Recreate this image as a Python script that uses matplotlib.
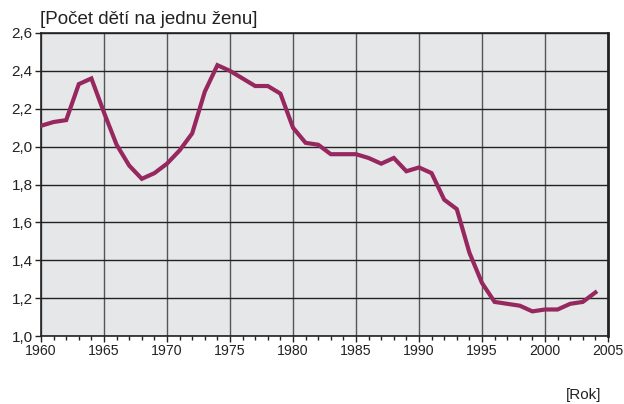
import matplotlib
matplotlib.use("Agg")
import matplotlib.pyplot as plt
from matplotlib.ticker import MultipleLocator, FuncFormatter

years = list(range(1960, 2005))
tfr = [2.11, 2.13, 2.14, 2.33, 2.36, 2.18, 2.01, 1.90, 1.83, 1.86,
       1.91, 1.98, 2.07, 2.29, 2.43, 2.40, 2.36, 2.32, 2.32, 2.28,
       2.10, 2.02, 2.01, 1.96, 1.96, 1.96, 1.94, 1.91, 1.94, 1.87,
       1.89, 1.86, 1.72, 1.67, 1.44, 1.28, 1.18, 1.17, 1.16, 1.13,
       1.14, 1.14, 1.17, 1.18, 1.23]
y_label = "[Počet dětí na jednu ženu]"
x_label = "[Rok]"

plt.rcParams['font.family'] = ['Liberation Sans', 'DejaVu Sans']

fig = plt.figure(figsize=(6.24, 4.04), dpi=100)
ax = fig.add_axes([41/624, 1-336/404, (608-41)/624, (336-33)/404])
ax.set_facecolor("#E6E7E8")
ax.plot(years, tfr, color="#96285F", lw=3.0, solid_joinstyle="miter", zorder=3)
ax.set_xlim(1960, 2005)
ax.set_ylim(1.0, 2.6)
ax.xaxis.set_major_locator(MultipleLocator(5))
ax.xaxis.set_minor_locator(MultipleLocator(1))
ax.yaxis.set_major_locator(MultipleLocator(0.2))
ax.yaxis.set_major_formatter(FuncFormatter(lambda v, p: f"{v:.1f}".replace(".", ",")))
ax.grid(True, which="major", color="#222222", lw=1.0, zorder=1)
for gl in ax.get_xgridlines():
    gl.set_color("#555555")
ax.tick_params(axis="x", which="major", length=4, width=1, color="#222222",
               labelsize=10.2, labelcolor="#222222", pad=2)
ax.tick_params(axis="y", which="major", length=4, width=1, color="#222222",
               labelsize=11, labelcolor="#222222", pad=2)
ax.tick_params(axis="x", which="minor", length=3, width=1, color="#222222")
ax.tick_params(axis="y", which="minor", length=0)
for s in ax.spines.values():
    s.set_color("#222222")
    s.set_linewidth(1.2)
ax.spines["right"].set_linewidth(2)
fig.text(40/624, 1-19/404, y_label, fontsize=13.5, color="#222222", va="center", ha="left")
fig.text(601/624, 1-395/404, x_label, fontsize=11, color="#222222", va="center", ha="right")
fig.savefig("out.png", dpi=100)
